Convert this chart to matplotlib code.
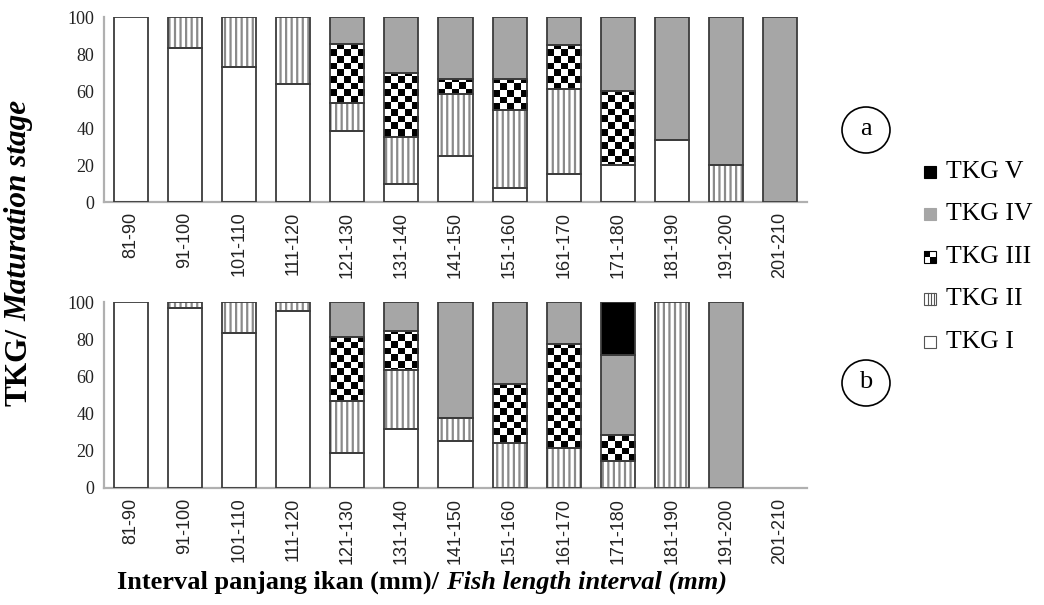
import numpy as np
import matplotlib
matplotlib.use("Agg")
import matplotlib.pyplot as plt
from matplotlib.patches import Rectangle, Ellipse

# data (percent of fish in each maturity stage per length class)
length_classes = ["81-90", "91-100", "101-110", "111-120", "121-130", "131-140",
                  "141-150", "151-160", "161-170", "171-180", "181-190",
                  "191-200", "201-210"]
stage_names = ["TKG I", "TKG II", "TKG III", "TKG IV", "TKG V"]

# panel a
a_tkg1 = [100, 83, 73, 64, 38.5, 10, 25, 7.5, 15, 20, 33.3, 0, 0]
a_tkg2 = [0, 17, 27, 36, 15, 25, 33.3, 42.5, 46, 0, 0, 20, 0]
a_tkg3 = [0, 0, 0, 0, 32, 35, 8.3, 16.5, 24, 40, 0, 0, 0]
a_tkg4 = [0, 0, 0, 0, 14.5, 30, 33.4, 33.5, 15, 40, 66.7, 80, 100]
a_tkg5 = [0, 0, 0, 0, 0, 0, 0, 0, 0, 0, 0, 0, 0]

# panel b
b_tkg1 = [100, 97, 83.3, 95, 19, 31.6, 25, 0, 0, 0, 0, 0, 0]
b_tkg2 = [0, 3, 16.7, 5, 28, 31.6, 12.5, 24.4, 21.5, 14.3, 100, 0, 0]
b_tkg3 = [0, 0, 0, 0, 34, 21, 0, 31.4, 55.8, 14.3, 0, 0, 0]
b_tkg4 = [0, 0, 0, 0, 19, 15.8, 62.5, 44.2, 22.7, 42.8, 0, 100, 0]
b_tkg5 = [0, 0, 0, 0, 0, 0, 0, 0, 0, 28.6, 0, 0, 0]

SERIF = "Liberation Serif"
SANS = "Liberation Sans"
GRAY = "#a6a6a6"
EDGE = "#3c3c3c"
STRIPE = "#8a8a8a"
BAR_W = 0.63

plt.rcParams["hatch.linewidth"] = 1.6

fig = plt.figure(figsize=(10.44, 6.05), dpi=100)
ax_a = fig.add_axes([0.0996, 0.6661, 0.6734, 0.3058])
ax_b = fig.add_axes([0.0996, 0.1934, 0.6734, 0.3074])

checker = np.indices((28, 5)).sum(axis=0) % 2


def draw_panel(ax, stages):
    x = np.arange(len(length_classes))
    bottom = np.zeros(len(x))
    for k, vals in enumerate(stages):
        vals = np.array(vals, dtype=float)
        h = np.where(vals > 0, vals, np.nan)
        if k == 0:
            ax.bar(x, h, BAR_W, bottom=bottom, color="white", linewidth=0, zorder=2)
        elif k == 1:
            ax.bar(x, h, BAR_W, bottom=bottom, color="white", edgecolor=STRIPE,
                   linewidth=0, hatch="|||", zorder=2)
        elif k == 2:
            bars = ax.bar(x, h, BAR_W, bottom=bottom, color="white", linewidth=0, zorder=2)
            for i, r in enumerate(bars):
                if vals[i] > 0:
                    im = ax.imshow(checker, cmap="gray_r", interpolation="nearest",
                                   extent=(i - BAR_W / 2, i + BAR_W / 2, 0, 100),
                                   aspect="auto", zorder=2.5)
                    im.set_clip_path(r)
        elif k == 3:
            ax.bar(x, h, BAR_W, bottom=bottom, color=GRAY, linewidth=0, zorder=2)
        else:
            ax.bar(x, h, BAR_W, bottom=bottom, color="black", linewidth=0, zorder=2)
        # outlines on top
        ax.bar(x, h, BAR_W, bottom=bottom, fill=False, edgecolor=EDGE,
               linewidth=1.3, zorder=3)
        bottom = bottom + vals

    ax.set_xlim(-0.5, len(x) - 0.5)
    ax.set_ylim(0, 100)
    ax.set_yticks([0, 20, 40, 60, 80, 100])
    ax.set_xticks(x)
    ax.set_xticklabels(length_classes, rotation=90, fontsize=13, family=SANS,
                       color="#222222")
    for lab in ax.get_yticklabels():
        lab.set_family(SERIF)
        lab.set_fontsize(13)
        lab.set_color("#222222")
    ax.tick_params(length=0, pad=7)
    for s in ["top", "right"]:
        ax.spines[s].set_visible(False)
    for s in ["left", "bottom"]:
        ax.spines[s].set_color("#b0b0b0")
        ax.spines[s].set_linewidth(1.6)


draw_panel(ax_a, [a_tkg1, a_tkg2, a_tkg3, a_tkg4, a_tkg5])
draw_panel(ax_b, [b_tkg1, b_tkg2, b_tkg3, b_tkg4, b_tkg5])

# overlay for legend, panel letters (pixel coordinates)
ov = fig.add_axes([0, 0, 1, 1], zorder=5)
ov.set_xlim(0, 1044)
ov.set_ylim(605, 0)
ov.axis("off")
ov.patch.set_alpha(0)

for letter, cy in [("a", 130), ("b", 383)]:
    ov.add_patch(Ellipse((866, cy), 48, 46, fill=False, edgecolor="black", lw=1.2))
    ov.text(866, cy - 1, letter, ha="center", va="center", fontsize=19, family=SERIF)

leg_y = [172, 214, 257, 299, 342]
leg_order = [4, 3, 2, 1, 0]
sq = 12
for y, k in zip(leg_y, leg_order):
    x0 = 924
    if k == 4:
        ov.add_patch(Rectangle((x0, y - sq / 2), sq, sq, facecolor="black", edgecolor="black", lw=0.8))
    elif k == 3:
        ov.add_patch(Rectangle((x0, y - sq / 2), sq, sq, facecolor=GRAY, edgecolor=GRAY, lw=0.8))
    elif k == 2:
        ov.add_patch(Rectangle((x0, y - sq / 2), sq, sq, facecolor="white", edgecolor="black", lw=0.8))
        ov.add_patch(Rectangle((x0, y - sq / 2), sq / 2, sq / 2, facecolor="black", lw=0))
        ov.add_patch(Rectangle((x0 + sq / 2, y), sq / 2, sq / 2, facecolor="black", lw=0))
    elif k == 1:
        ov.add_patch(Rectangle((x0, y - sq / 2), sq, sq, facecolor="white", edgecolor="#555555", lw=0.8))
        for dx in [sq * 0.3, sq * 0.55, sq * 0.8]:
            ov.plot([x0 + dx, x0 + dx], [y - sq / 2, y + sq / 2], color="#555555", lw=0.8)
    else:
        ov.add_patch(Rectangle((x0, y - sq / 2), sq, sq, facecolor="white", edgecolor="#555555", lw=0.8))
    ov.text(946, y, stage_names[k], ha="left", va="center", fontsize=18.5, family=SERIF)


def two_part_label(cx, cy, part1, part2, size, vertical=False):
    kw = dict(fontsize=size, fontweight="bold", family=SERIF)
    rot = 90 if vertical else 0
    t1 = ov.text(0, 0, part1, rotation=rot, **kw)
    t2 = ov.text(0, 0, part2, rotation=rot, style="italic", **kw)
    r = fig.canvas.get_renderer()
    b1 = t1.get_window_extent(r)
    b2 = t2.get_window_extent(r)
    gap = size * 0.25 * 100 / 72
    if vertical:
        total = b1.height + gap + b2.height
        start = cy + total / 2
        t1.set_position((cx, start))
        t1.set_ha("center"); t1.set_va("bottom")
        t2.set_position((cx, start - b1.height - gap))
        t2.set_ha("center"); t2.set_va("bottom")
    else:
        total = b1.width + gap + b2.width
        start = cx - total / 2
        t1.set_position((start, cy))
        t1.set_ha("left"); t1.set_va("center")
        t2.set_position((start + b1.width + gap, cy))
        t2.set_ha("left"); t2.set_va("center")


two_part_label(19, 253, "TKG/", "Maturation stage", 22.5, vertical=True)
two_part_label(422, 582, "Interval panjang ikan (mm)/", "Fish length interval (mm)", 19)

fig.savefig("out.png", dpi=100)
